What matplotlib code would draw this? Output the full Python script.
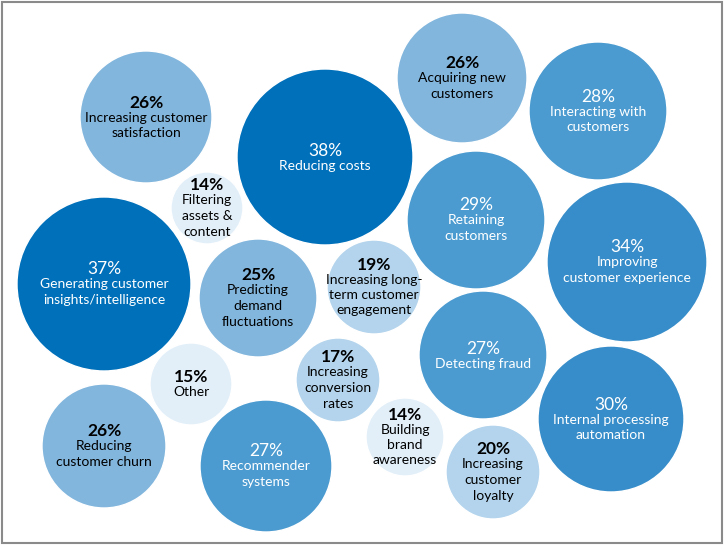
import matplotlib
matplotlib.use("Agg")
import matplotlib.pyplot as plt
from matplotlib.patches import Circle, Rectangle

# survey results: share of respondents per use case
labels = [
    "Increasing customer\nsatisfaction", "Reducing costs", "Filtering\nassets &\ncontent",
    "Generating customer\ninsights/intelligence", "Acquiring new\ncustomers",
    "Interacting with\ncustomers", "Retaining\ncustomers", "Improving\ncustomer experience",
    "Predicting\ndemand\nfluctuations", "Increasing long-\nterm customer\nengagement",
    "Other", "Increasing\nconversion\nrates", "Detecting fraud", "Internal processing\nautomation",
    "Reducing\ncustomer churn", "Recommender\nsystems", "Building\nbrand\nawareness",
    "Increasing\ncustomer\nloyalty",
]
values = [26, 38, 14, 37, 26, 28, 29, 34, 25, 19, 15, 17, 27, 30, 26, 27, 14, 20]

# layout of the bubbles (pixel space of the original picture)
cx = [146, 325, 207, 104, 462, 598, 476, 627, 258, 374, 191, 338, 483, 611, 104, 266, 405, 493]
cy = [117, 157, 208, 284, 78, 111, 220, 262, 298, 287, 384, 380, 355, 419, 446, 466, 437, 472]
rad = [66, 88, 36, 87, 65, 69, 69, 80, 59, 47, 41, 42, 64, 73, 62, 66, 39, 47]

def shade(v):
    # colour band by value, dark text on the light ones
    if v >= 35:
        return "#0070BA", "white"
    if v >= 30:
        return "#378DC9", "white"
    if v >= 27:
        return "#4B9BD0", "white"
    if v >= 21:
        return "#82B6DD", "black"
    if v >= 16:
        return "#B3D4EC", "black"
    return "#E2EFF9", "black"

plt.rcParams["font.family"] = ["Lato", "DejaVu Sans"]

fig = plt.figure(figsize=(7.24, 5.45), dpi=100)
ax = fig.add_axes([0, 0, 1, 1])
ax.set_xlim(0, 724)
ax.set_ylim(545, 0)
ax.axis("off")

ax.add_patch(Rectangle((2, 2), 720, 541, fill=False, edgecolor="#8a8a8a", linewidth=1.5))

for lab, v, x, y, r in zip(labels, values, cx, cy, rad):
    face, tc = shade(v)
    ax.add_patch(Circle((x, y), r, facecolor=face, edgecolor="white", linewidth=1))
    nlines = lab.count("\n") + 1
    top = y - (nlines * 16 + 17) / 2 + 2
    ax.text(x, top + 8, f"{v}%", ha="center", va="center", color=tc,
            fontsize=12.5, fontweight="bold" if tc == "black" else "normal")
    ax.text(x, top + 17, lab, ha="center", va="top", color=tc, fontsize=10,
            linespacing=1.35)

plt.savefig("out.png", dpi=100)
